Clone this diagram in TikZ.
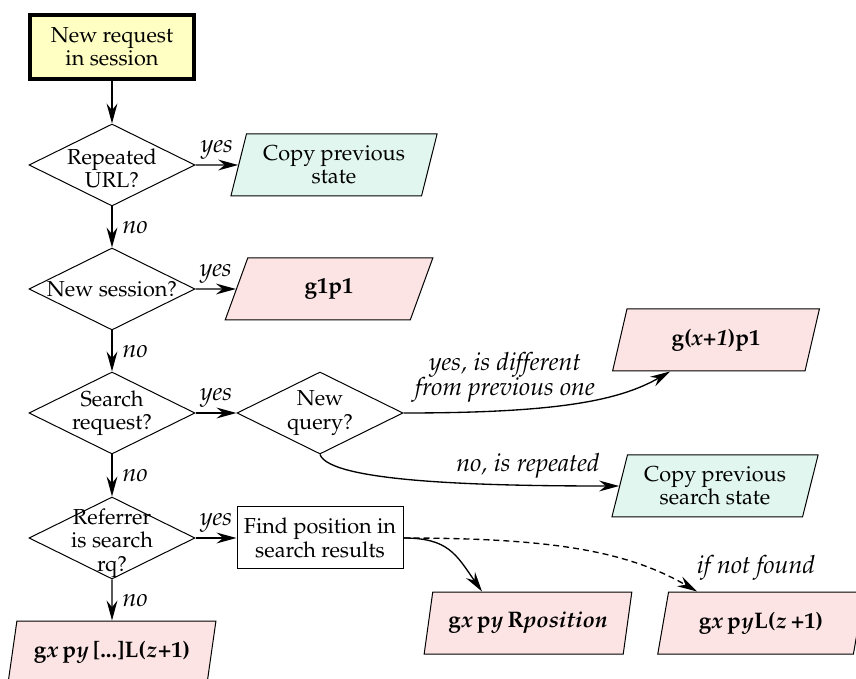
\documentclass[tikz,border=0pt]{standalone}
\usepackage[T1]{fontenc}
\usepackage{mathpazo}
\usetikzlibrary{shapes.geometric,arrows.meta,calc}
\definecolor{startfill}{HTML}{FFFFC4}
\definecolor{pinkfill}{HTML}{FDE4E4}
\definecolor{cyanfill}{HTML}{E1F6EF}
\tikzset{
  startbox/.style={draw, line width=2.4pt, fill=startfill, minimum width=98.4pt, minimum height=38.4pt, align=center, inner sep=0pt},
  dia/.style={diamond, draw, line width=0.6pt, aspect=2, minimum width=99.6pt, minimum height=49.2pt, inner sep=0pt},
  dtext/.style={align=center, inner sep=0pt},
  para/.style={trapezium, trapezium left angle=72, trapezium right angle=108, trapezium stretches=true, draw, line width=0.6pt, minimum width=124.8pt, minimum height=37.2pt, inner sep=0pt, align=center},
  pinkpara/.style={para, fill=pinkfill, font=\fontsize{13.5}{15}\selectfont},
  cyanpara/.style={para, fill=cyanfill},
  procbox/.style={draw, line width=0.6pt, minimum width=99.6pt, minimum height=37.2pt, align=center, inner sep=0pt},
  arr/.style={line width=0.8pt, -{Stealth[length=12pt,width=6.5pt,inset=4pt]}},
  lbl/.style={font=\fontsize{15}{15}\selectfont\itshape, inner sep=2pt},
  yeslbl/.style={lbl, above=1pt},
  nolbl/.style={lbl, right=4pt},
}
\begin{document}
\begin{tikzpicture}[x=0.6pt, y=0.6pt, font=\fontsize{13}{14}\selectfont]
\useasboundingbox (0,0) rectangle (856,-679);

\node[startbox] (start) at (112,-47) {New request\\in session};

\node[dia] (d1) at (112,-165) {};
\node[dtext] (t1) at ([yshift=-2pt]d1) {Repeated\\URL?};
\node[cyanpara] (pc1) at (334,-165) {Copy previous\\state};

\node[dia] (d2) at (112,-289) {};
\node[dtext] (t2) at (d2) {New session?};
\node[pinkpara] (pg1) at (329,-289) {\textbf{g1p1}};

\node[dia] (d3) at (112,-413) {};
\node[dtext] (t3) at (d3) {Search\\request?};
\node[dia] (d4) at (320,-413) {};
\node[dtext] (t4) at (d4) {New\\query?};
\node[pinkpara] (pgx) at (716,-340) {\textbf{g(\textit{x+1})p1}};
\node[cyanpara] (pc2) at (715,-486) {Copy previous\\search state};

\node[dia] (d5) at (112,-538) {};
\node[dtext] (t5) at ([yshift=-3pt]d5) {Referrer\\is search\\rq?};
\node[procbox] (find) at (320,-538) {Find position in\\search results};

\node[pinkpara] (pR) at (528,-623) {\textbf{g}{\boldmath$x$}\,\textbf{p}{\boldmath$y$}\,\textbf{R\textit{position}}};
\node[pinkpara] (pL) at (761,-623) {\textbf{g}{\boldmath$x$}\,\textbf{p}{\boldmath$y$}\textbf{L(}{\boldmath$z$}\,\textbf{+1)}};
\node[pinkpara] (pB) at (112,-652) {\textbf{g}{\boldmath$x$}\,\textbf{p}{\boldmath$y$}\,\textbf{[...]L(}{\boldmath$z$}\textbf{+1)}};

\draw[arr] (start) -- (d1);
\draw[arr] (d1) -- node[yeslbl] {yes} (pc1);
\draw[arr] (d1) -- node[nolbl] {no} (d2);
\draw[arr] (d2) -- node[yeslbl] {yes} (pg1);
\draw[arr] (d2) -- node[nolbl] {no} (d3);
\draw[arr] (d3) -- node[yeslbl] {yes} (d4);
\draw[arr] (d3) -- node[nolbl] {no} (d5);
\draw[arr] (d5) -- node[yeslbl] {yes} (find);
\draw[arr] (d5) -- node[nolbl] {no} (pB);

\draw[arr] (d4.east) .. controls +(150,0) and +(-150:60) .. ([xshift=-27.6pt]pgx.south);
\node[lbl, align=center] (l1) at (505,-377) {yes, is different\\from previous one};
\draw[arr] (d4.south) .. controls +(-70:30) and +(-130,0) .. (pc2.left side);
\node[lbl] (l2) at (528,-466) {no, is repeated};
\draw[arr] (find.east) .. controls +(45,0) and +(125:45) .. ([xshift=-27.6pt]pR.north);
\draw[arr, dash pattern=on 3.6pt off 2.4pt] (find.east) .. controls +(150,0) and +(150:80) .. ([xshift=-38.4pt]pL.north);
\node[lbl] (l3) at (756,-568) {if not found};
\end{tikzpicture}
\end{document}
